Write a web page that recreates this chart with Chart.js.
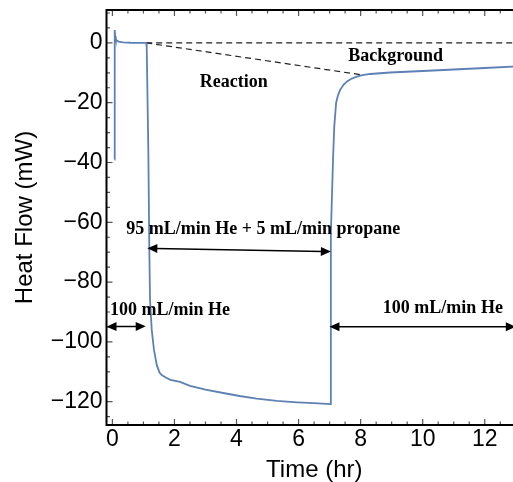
<!DOCTYPE html>
<html>
<head>
<meta charset="utf-8">
<script src="https://cdn.jsdelivr.net/npm/chart.js@4"></script>
<style>
  html, body { margin: 0; padding: 0; overflow: hidden; background: #fff; }
  #wrap { width: 522px; height: 482px; }
</style>
</head>
<body>
<div id="wrap"><canvas id="chart" width="522" height="482"></canvas></div>
<script>
// heat flow trace (hr, mW)
const timeHr = [
  0.07, 0.075, 0.09, 0.11, 0.14, 0.2, 0.34, 0.6, 1.09,
  1.106, 1.158, 1.19, 1.213, 1.268, 1.34, 1.43, 1.52, 1.59, 1.72, 1.87, 2.18,
  2.5, 3.0, 3.57, 4.1, 4.65, 5.3, 5.95, 6.5, 7.03,
  7.04, 7.11, 7.15, 7.21, 7.27, 7.34, 7.45, 7.56, 7.7, 7.88, 8.05, 8.31,
  8.95, 10.0, 11.0, 12.0, 13.2,
];
const heatFlow = [
  -39.0, 4.3, 2.2, 1.3, 0.8, 0.45, 0.15, 0.05, 0.0,
  -1.5, -36, -69, -86, -96, -102.7, -107.7, -110.3, -111.1, -111.9, -112.7, -113.4,
  -114.7, -116.0, -117.1, -118.1, -119.0, -119.7, -120.2, -120.5, -120.8,
  -64, -39, -28, -20, -17.5, -15.7, -14.0, -12.9, -12.0, -11.3, -10.8, -10.4,
  -9.9, -9.4, -8.9, -8.4, -7.75,
];

// baselines drawn as dashed lines
const backgroundTime = [1.09, 13.2];
const backgroundFlow = [0, 0];
const reactionTime = [1.09, 8.04];
const reactionFlow = [0, -10.7];

const xTickValues = [0, 2, 4, 6, 8, 10, 12];
const yTickValues = [0, -20, -40, -60, -80, -100, -120];

// text notes, centred at (time, flow) on the baseline
const noteText = [
  "Reaction",
  "Background",
  "95 mL/min He + 5 mL/min propane",
  "100 mL/min He",
  "100 mL/min He",
];
const noteTime = [3.91, 9.13, 4.86, 1.86, 10.65];
const noteFlow = [-14.75, -6.05, -63.9, -90.9, -90.2];

// double-headed arrows for the gas feed periods
const arrowStartTime = [1.126, -0.19, 6.995];
const arrowStartFlow = [-68.7, -94.9, -94.9];
const arrowEndTime = [7.04, 1.074, 13.0];
const arrowEndFlow = [-69.8, -94.8, -94.9];

const SANS = '"Liberation Sans", Arial, Helvetica, sans-serif';
const SERIF = '"Liberation Serif", "Times New Roman", serif';

function toPoints(xs, ys) {
  return xs.map((x, i) => ({ x, y: ys[i] }));
}

function fmtTick(v) {
  return v < 0 ? "\u2212" + Math.abs(v) : String(v);
}

// Mathematica-style frame with inward ticks
const frameTicks = {
  id: "frameTicks",
  afterDatasetsDraw(chart) {
    const { ctx, chartArea: a, scales: { x, y } } = chart;
    ctx.save();
    ctx.strokeStyle = "#555";
    ctx.lineWidth = 1.2;
    ctx.beginPath();
    for (let v = 0; v <= 13; v += 0.5) {
      const px = x.getPixelForValue(v);
      const len = v % 2 === 0 ? 6 : 3.5;
      ctx.moveTo(px, a.bottom);
      ctx.lineTo(px, a.bottom - len);
      ctx.moveTo(px, a.top);
      ctx.lineTo(px, a.top + len);
    }
    for (let v = -125; v <= 10; v += 5) {
      const py = y.getPixelForValue(v);
      const len = v % 20 === 0 ? 6 : 3.5;
      ctx.moveTo(a.left, py);
      ctx.lineTo(a.left + len, py);
      ctx.moveTo(a.right, py);
      ctx.lineTo(a.right - len, py);
    }
    ctx.stroke();
    ctx.strokeStyle = "#000";
    ctx.lineWidth = 2;
    ctx.strokeRect(a.left, a.top, a.right - a.left, a.bottom - a.top);
    ctx.restore();
  },
};

function drawHead(ctx, tipX, tipY, ang) {
  const len = 10;
  const half = 4.5;
  const c = Math.cos(ang);
  const s = Math.sin(ang);
  ctx.beginPath();
  ctx.moveTo(tipX, tipY);
  ctx.lineTo(tipX - len * c - half * s, tipY - len * s + half * c);
  ctx.lineTo(tipX - len * c + half * s, tipY - len * s - half * c);
  ctx.closePath();
  ctx.fill();
}

const notes = {
  id: "notes",
  afterDatasetsDraw(chart) {
    const { ctx, scales: { x, y } } = chart;
    ctx.save();
    ctx.fillStyle = "#000";
    ctx.font = "bold 18px " + SERIF;
    ctx.textAlign = "center";
    ctx.textBaseline = "alphabetic";
    noteText.forEach((t, i) => {
      ctx.fillText(t, x.getPixelForValue(noteTime[i]), y.getPixelForValue(noteFlow[i]));
    });

    ctx.strokeStyle = "#000";
    ctx.lineWidth = 1.5;
    arrowStartTime.forEach((t, i) => {
      const x1 = x.getPixelForValue(t);
      const y1 = y.getPixelForValue(arrowStartFlow[i]);
      const x2 = x.getPixelForValue(arrowEndTime[i]);
      const y2 = y.getPixelForValue(arrowEndFlow[i]);
      const ang = Math.atan2(y2 - y1, x2 - x1);
      ctx.beginPath();
      ctx.moveTo(x1 + 8 * Math.cos(ang), y1 + 8 * Math.sin(ang));
      ctx.lineTo(x2 - 8 * Math.cos(ang), y2 - 8 * Math.sin(ang));
      ctx.stroke();
      drawHead(ctx, x2, y2, ang);
      drawHead(ctx, x1, y1, ang + Math.PI);
    });
    ctx.restore();
  },
};

new Chart(document.getElementById("chart"), {
  type: "line",
  data: {
    datasets: [
      {
        data: toPoints(timeHr, heatFlow),
        borderColor: "#5E81B5",
        borderWidth: 1.8,
        pointRadius: 0,
        tension: 0,
        fill: false,
      },
      {
        data: toPoints(backgroundTime, backgroundFlow),
        borderColor: "#222",
        borderWidth: 1.2,
        borderDash: [6, 4],
        pointRadius: 0,
        fill: false,
      },
      {
        data: toPoints(reactionTime, reactionFlow),
        borderColor: "#222",
        borderWidth: 1.2,
        borderDash: [6, 4],
        pointRadius: 0,
        fill: false,
      },
    ],
  },
  options: {
    responsive: false,
    animation: false,
    devicePixelRatio: 1,
    layout: { padding: { top: 10, left: 0, right: 0, bottom: 0 } },
    plugins: {
      legend: { display: false },
      tooltip: { enabled: false },
    },
    scales: {
      x: {
        type: "linear",
        min: -0.19,
        max: 13.2,
        grid: { display: false, drawTicks: false },
        border: { display: false },
        afterBuildTicks: (s) => {
          s.ticks = xTickValues.map((v) => ({ value: v }));
        },
        afterFit: (s) => {
          s.height = 57;
          s.paddingLeft = 0;
          s.paddingRight = 0;
        },
        ticks: {
          autoSkip: false,
          maxRotation: 0,
          padding: 1,
          color: "#000",
          font: { family: SANS, size: 23 },
          callback: fmtTick,
        },
        title: {
          display: true,
          text: "Time (hr)",
          color: "#000",
          font: { family: SANS, size: 24, lineHeight: 1 },
          padding: { top: 0, bottom: 0 },
        },
      },
      y: {
        type: "linear",
        min: -127.8,
        max: 11,
        grid: { display: false, drawTicks: false },
        border: { display: false },
        afterBuildTicks: (s) => {
          s.ticks = yTickValues.map((v) => ({ value: v }));
        },
        afterFit: (s) => {
          s.width = 106.5;
          s.paddingTop = 0;
          s.paddingBottom = 0;
        },
        ticks: {
          autoSkip: false,
          padding: 4,
          color: "#000",
          font: { family: SANS, size: 23 },
          callback: fmtTick,
        },
        title: {
          display: true,
          text: "Heat Flow (mW)",
          color: "#000",
          font: { family: SANS, size: 24, lineHeight: 1 },
          padding: { top: 13, bottom: 0 },
        },
      },
    },
  },
  plugins: [frameTicks, notes],
});
</script>
</body>
</html>
